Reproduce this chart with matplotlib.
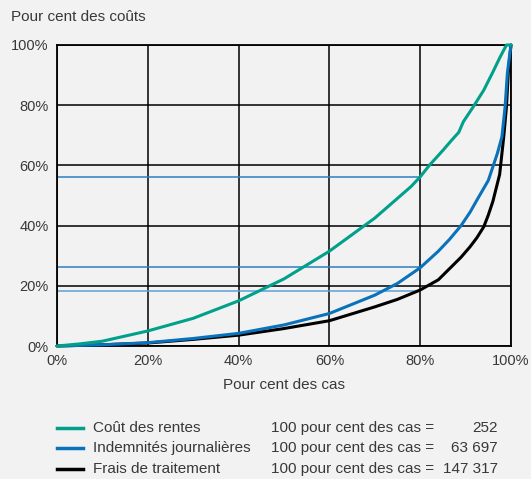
import matplotlib
matplotlib.use("Agg")
import matplotlib.pyplot as plt
from matplotlib.lines import Line2D

plt.rcParams["font.family"] = ["Liberation Sans", "DejaVu Sans"]

# per cent of cases (x) and per cent of costs (y)
rentes_x = [0, 5, 10, 20, 30, 40, 50, 60, 70, 78, 80, 82, 85, 87, 88.5, 89.5, 91.7, 94, 96, 97.6, 99, 100]
rentes_y = [0, 0.7, 1.6, 5, 9.2, 15, 22.3, 31.5, 42.5, 53, 56.2, 60, 65, 68.5, 71, 74.5, 79.5, 85, 91, 96, 100, 100]

indem_x = [0, 5, 10, 20, 30, 40, 50, 60, 70, 75, 80, 84, 86.5, 89, 91, 92.5, 95, 96, 97, 98, 98.7, 99.2, 99.6, 100]
indem_y = [0, 0.2, 0.4, 1.1, 2.5, 4.2, 7, 10.8, 16.9, 20.8, 26, 31.5, 35.5, 40, 44.5, 48.5, 55, 59.5, 64, 69.5, 79.5, 90.6, 95.5, 100]

frais_x = [0, 5, 10, 20, 30, 40, 50, 60, 70, 75, 80, 84, 87, 89, 91, 92.5, 94, 95, 96, 97.5, 98.4, 99, 99.4, 99.7, 100]
frais_y = [0, 0.2, 0.4, 1, 2.2, 3.6, 5.8, 8.4, 13, 15.5, 18.6, 22, 26.5, 29.5, 33, 36, 39.6, 43.5, 48, 57, 69.5, 79.5, 90.6, 95.5, 100]

# reference lines at 80 % of cases
ref_x = 80
ref_levels = [56, 26.2, 18.3]
ref_colors = ["#2b7fc1", "#2b7fc1", "#5c9fd6"]

labels = ["Coût des rentes", "Indemnités journalières", "Frais de traitement"]
totals = ["252", "63 697", "147 317"]
colors = ["#00a08a", "#0a72ba", "#000000"]
series = [(rentes_x, rentes_y), (indem_x, indem_y), (frais_x, frais_y)]

bg = "#f2f2f2"
txt = "#383838"

fig = plt.figure(figsize=(5.31, 4.79), dpi=100, facecolor=bg)
ax = fig.add_axes([57 / 531, 133 / 479, 454 / 531, 301 / 479])
ax.set_facecolor(bg)

for lvl, c in zip(ref_levels, ref_colors):
    ax.plot([0, ref_x], [lvl, lvl], color=c, lw=1.1, zorder=2)

for (xs, ys), c in zip(series[::-1], colors[::-1]):
    ax.plot(xs, ys, color=c, lw=2.2, zorder=3, solid_capstyle="round",
            solid_joinstyle="round", clip_on=False)

ax.set_xlim(0, 100)
ax.set_ylim(0, 100)
ticks = [0, 20, 40, 60, 80, 100]
ax.set_xticks(ticks)
ax.set_yticks(ticks)
ax.set_xticklabels([f"{t}%" for t in ticks])
ax.set_yticklabels([f"{t}%" for t in ticks])
ax.tick_params(length=0, labelsize=10.5, labelcolor=txt, pad=6)
ax.grid(True, color="black", lw=1.1, zorder=1)
for s in ax.spines.values():
    s.set_color("black")
    s.set_linewidth(1.3)

ax.set_xlabel("Pour cent des cas", fontsize=11, color=txt, labelpad=7)
fig.text(11 / 531, 1 - 17 / 479, "Pour cent des coûts", fontsize=11, color=txt,
         va="center", ha="left")

# legend drawn by hand to keep the column layout
ys_leg = [428, 448, 469]
for lab, tot, c, yp in zip(labels, totals, colors, ys_leg):
    yf = 1 - yp / 479
    fig.add_artist(Line2D([57 / 531, 83 / 531], [yf, yf], color=c, lw=2.5))
    fig.text(93 / 531, yf, lab, fontsize=11, color=txt, va="center", ha="left")
    fig.text(271 / 531, yf, "100 pour cent des cas =", fontsize=11, color=txt,
             va="center", ha="left")
    fig.text(498 / 531, yf, tot, fontsize=11, color=txt, va="center", ha="right")

fig.savefig("out.png", dpi=100, facecolor=bg)
